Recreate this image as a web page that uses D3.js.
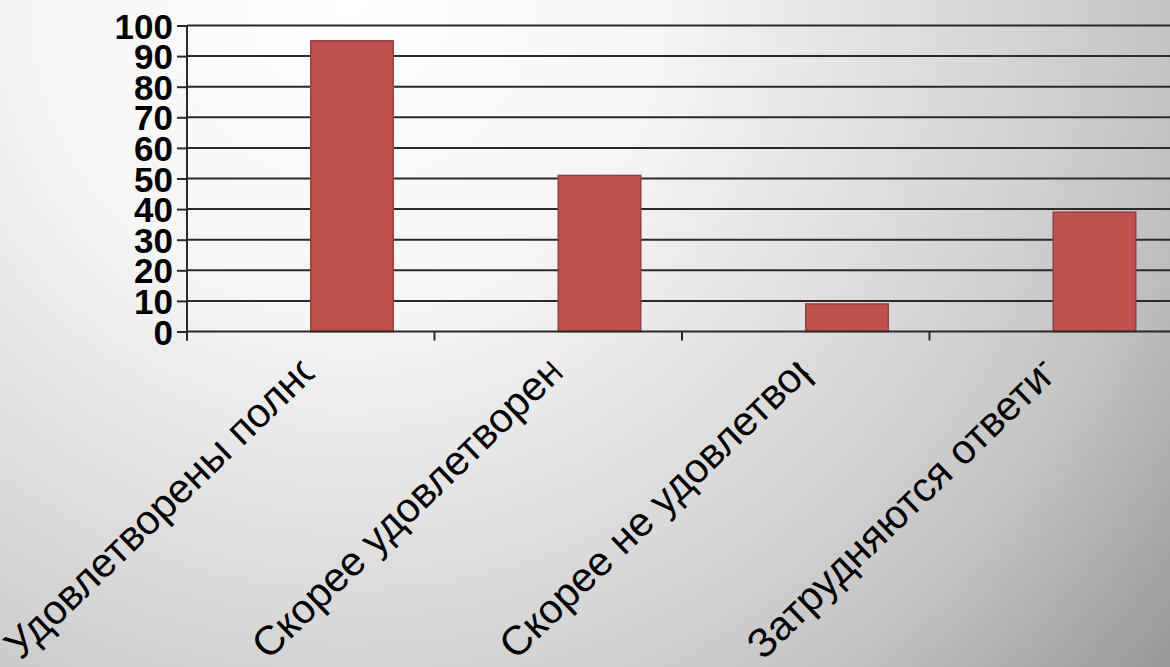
<!DOCTYPE html>
<meta charset="utf-8">
<head>
 <title>Удовлетворённость</title>
</head>

<style>
body { margin: 0; }
svg { display: block; font-family: "Liberation Sans", Arial, sans-serif; }
.bar {
 fill: #c0504d;
 stroke: #94403e;
 stroke-width: 1.5;
}
.grid line { stroke: #2a2a2a; stroke-width: 2; }
</style>

<body>

 <div id="content">
   <svg width="1170" height="667"></svg>
 </div>

 <script src="https://cdnjs.cloudflare.com/ajax/libs/d3/7.8.5/d3.min.js"></script>

 <script>
// data
var categories = ["Удовлетворены полностью", "Скорее удовлетворены", "Скорее не удовлетворены", "Затрудняются ответить"]
var values = [95, 51, 9, 39]
var yTicks = [0, 10, 20, 30, 40, 50, 60, 70, 80, 90, 100]

var width = 1170, height = 667
var plotLeft = 187, plotBottom = 331.5, plotTop = 25.5
var band = 247.5

var svg = d3.select('svg')
var defs = svg.append('defs')

// background: light near the top left, grey towards the bottom right
var grad = defs.append('radialGradient')
  .attr('id', 'bg')
  .attr('gradientUnits', 'userSpaceOnUse')
  .attr('cx', 350).attr('cy', 0).attr('r', 1060)
grad.append('stop').attr('offset', '0%').attr('stop-color', '#ffffff')
grad.append('stop').attr('offset', '30%').attr('stop-color', '#f5f5f5')
grad.append('stop').attr('offset', '63%').attr('stop-color', '#d4d4d4')
grad.append('stop').attr('offset', '77%').attr('stop-color', '#c4c4c4')
grad.append('stop').attr('offset', '100%').attr('stop-color', '#979797')

svg.append('rect')
  .attr('width', width).attr('height', height)
  .attr('fill', 'url(#bg)')

var x = d3.scaleBand()
  .domain(categories)
  .range([plotLeft, plotLeft + band * categories.length])
  .paddingInner(0).paddingOuter(0)

// two slots per category, the first is empty (like an excel clustered chart)
var slot = d3.scaleBand()
  .domain(['empty', 'value'])
  .range([x.bandwidth() / 6, x.bandwidth() * 5 / 6])

var y = d3.scaleLinear()
  .domain([0, 100])
  .range([plotBottom, plotTop])

// horizontal grid lines
svg.append('g')
  .attr('class', 'grid')
  .selectAll('line')
  .data(yTicks.slice(1))
  .enter()
  .append('line')
  .attr('x1', plotLeft).attr('x2', width)
  .attr('y1', function(d) { return y(d) })
  .attr('y2', function(d) { return y(d) })

// bars
svg.append('g')
  .selectAll('rect')
  .data(values)
  .enter()
  .append('rect')
  .attr('class', 'bar')
  .attr('x', function(d, i) { return x(categories[i]) + slot('value') })
  .attr('width', slot.bandwidth())
  .attr('y', function(d) { return y(d) })
  .attr('height', function(d) { return y(0) - y(d) })

// y axis
var yAxis = svg.append('g')
  .attr('transform', 'translate(' + plotLeft + ',0)')
  .call(d3.axisLeft(y).tickValues(yTicks).tickSize(10).tickSizeOuter(0))
yAxis.selectAll('path, line').attr('stroke', '#2a2a2a').attr('stroke-width', 2)
yAxis.select('.domain').attr('d', 'M0,' + plotTop + 'V' + (plotBottom + 9))
yAxis.selectAll('text')
  .attr('x', -14)
  .attr('dy', '0.36em')
  .attr('fill', '#000')
  .style('font-size', '35px')
  .style('font-weight', 'bold')
  .style('font-family', '"Liberation Sans", Arial, sans-serif')

// x axis line and ticks between categories
var bounds = categories.map(function(c) { return x(c) })
bounds.push(x(categories[categories.length - 1]) + x.bandwidth())
svg.append('line')
  .attr('x1', plotLeft).attr('x2', width)
  .attr('y1', y(0)).attr('y2', y(0))
  .attr('stroke', '#2a2a2a').attr('stroke-width', 2)
svg.append('g')
  .selectAll('line')
  .data(bounds)
  .enter()
  .append('line')
  .attr('x1', function(d) { return d }).attr('x2', function(d) { return d })
  .attr('y1', y(0)).attr('y2', y(0) + 9)
  .attr('stroke', '#2a2a2a').attr('stroke-width', 2)

// rotated category labels, cut off at a fixed length
defs.append('clipPath')
  .attr('id', 'labelclip')
  .append('rect')
  .attr('x', -30).attr('y', -60)
  .attr('width', 440).attr('height', 90)

var labels = svg.append('g')
  .selectAll('g')
  .data(categories)
  .enter()
  .append('g')
  .attr('transform', function(d) {
    return 'translate(' + (x(d) + x.bandwidth() / 2 - 290) + ',661) rotate(-44)'
  })

labels.append('text')
  .attr('clip-path', 'url(#labelclip)')
  .attr('fill', '#000')
  .style('font-size', '41px')
  .text(function(d) { return d })

 </script>

</body>
</html>
